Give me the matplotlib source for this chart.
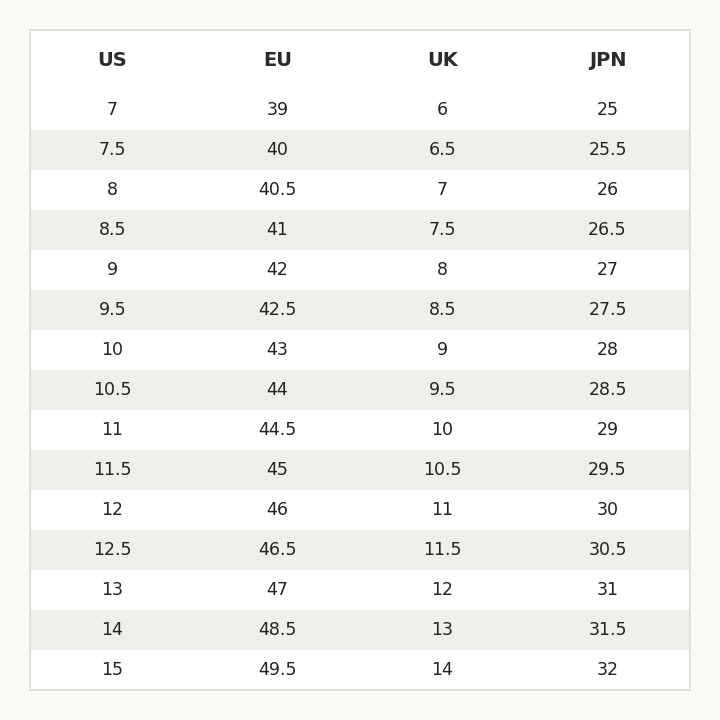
import matplotlib
matplotlib.use("Agg")
from matplotlib import pyplot as plt
from matplotlib.patches import Rectangle

HEADERS = ["US", "EU", "UK", "JPN"]
US = ["7", "7.5", "8", "8.5", "9", "9.5", "10", "10.5", "11", "11.5", "12", "12.5", "13", "14", "15"]
EU = ["39", "40", "40.5", "41", "42", "42.5", "43", "44", "44.5", "45", "46", "46.5", "47", "48.5", "49.5"]
UK = ["6", "6.5", "7", "7.5", "8", "8.5", "9", "9.5", "10", "10.5", "11", "11.5", "12", "13", "14"]
JPN = ["25", "25.5", "26", "26.5", "27", "27.5", "28", "28.5", "29", "29.5", "30", "30.5", "31", "31.5", "32"]

columns = [US, EU, UK, JPN]
n_rows = len(US)
header_h = 60
row_h = 40
width = 660
height = header_h + n_rows * row_h

fig = plt.figure(figsize=(7.2, 7.2), dpi=100, facecolor="#faf9f5")
ax = fig.add_axes([30 / 720, 30 / 720, 660 / 720, 660 / 720])
ax.set_xlim(0, width)
ax.set_ylim(height, 0)
ax.axis("off")

ax.add_patch(Rectangle((0, 0), width, height, facecolor="white", edgecolor="none"))
for i in range(n_rows):
    y0 = header_h + i * row_h
    if i % 2 == 1:
        ax.add_patch(Rectangle((0, y0), width, row_h, facecolor="#f0efea", edgecolor="none"))

col_w = width / len(columns)
for j, (name, vals) in enumerate(zip(HEADERS, columns)):
    cx = (j + 0.5) * col_w
    ax.text(cx, 31, name, ha="center", va="center", fontsize=14, fontweight="bold", color="#2b2b2b")
    for i, v in enumerate(vals):
        ax.text(cx, header_h + (i + 0.5) * row_h, v, ha="center", va="center",
                fontsize=12.5, color="#222222")

ax.add_patch(Rectangle((0, 0), width, height, facecolor="none", edgecolor="#dcdcd6",
                       linewidth=1.2, clip_on=False))

fig.savefig("out.png", dpi=100, facecolor=fig.get_facecolor())
